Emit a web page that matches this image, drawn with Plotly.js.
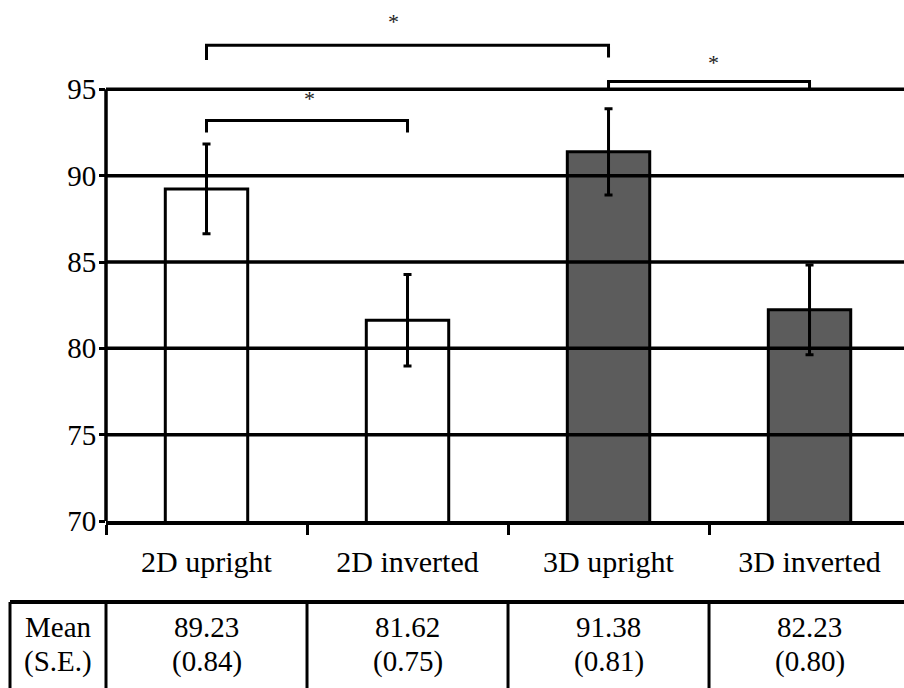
<!DOCTYPE html>
<html>
<head>
<meta charset="utf-8">
<script src="https://cdn.plot.ly/plotly-3.0.1.min.js"></script>
<style>
  html, body { margin: 0; padding: 0; background: #fff; }
  #chart { width: 904px; height: 688px; }
</style>
</head>
<body>
<div id="chart"></div>
<script>
// ---- data ----
const categories = ["2D upright", "2D inverted", "3D upright", "3D inverted"];
const means = [89.23, 81.62, 91.38, 82.23];
const errors = [2.6, 2.65, 2.5, 2.6];
const seLabels = ["(0.84)", "(0.75)", "(0.81)", "(0.80)"];
const meanLabels = ["89.23", "81.62", "91.38", "82.23"];
const barColors = ["#ffffff", "#ffffff", "#5c5c5c", "#5c5c5c"];
const yTicks = [70, 75, 80, 85, 90, 95];
// significance brackets: [fromIdx, toIdx, yBar, yLeftEnd, yRightEnd, starX, starY]
const brackets = [
  [0, 2, 97.55, 96.7, 96.85, 0.93, 98.95],
  [2, 3, 95.45, 94.95, 94.95, 2.52, 96.56],
  [0, 1, 93.2, 92.5, 92.5, 0.51, 94.46]
];

const FONT = "'Liberation Serif', 'Times New Roman', serif";

const trace = {
  type: "bar",
  x: categories,
  y: means,
  width: 0.41,
  marker: { color: barColors, line: { color: "#000", width: 3 } },
  error_y: { type: "data", array: errors, visible: true, color: "#000", thickness: 3, width: 4 },
  hoverinfo: "skip"
};

const shapes = [];
const annotations = [];

// gridlines above bars
yTicks.slice(1).forEach(v => {
  shapes.push({ type: "line", layer: "above", xref: "paper", yref: "y", x0: 0, x1: 1, y0: v, y1: v,
    line: { color: "#000", width: 3.5 } });
});
// y axis line
shapes.push({ type: "line", layer: "above", xref: "paper", yref: "y", x0: 0, x1: 0, y0: 70, y1: 95,
  line: { color: "#000", width: 3.5 } });

// brackets
brackets.forEach(b => {
  const [a, c, yb, yl, yr, sx, sy] = b;
  shapes.push({ type: "path", layer: "above", xref: "x", yref: "y",
    path: `M ${a},${yl} L ${a},${yb} L ${c},${yb} L ${c},${yr}`,
    line: { color: "#000", width: 3 } });
  annotations.push({ xref: "x", yref: "y", x: sx, y: sy, text: "*", showarrow: false,
    font: { family: FONT, size: 22, color: "#222" }, xanchor: "center", yanchor: "middle" });
});

// table
const tTop = -0.1564, tBot = -0.34, tLeft = -0.1203;
const lineStyle = { color: "#000", width: 3 };
shapes.push({ type: "line", xref: "paper", yref: "paper", x0: tLeft, x1: 1.02, y0: tTop, y1: tTop, line: { color: "#000", width: 4 } });
shapes.push({ type: "line", xref: "paper", yref: "paper", x0: tLeft, x1: tLeft, y0: tTop, y1: tBot, line: lineStyle });
shapes.push({ type: "line", xref: "paper", yref: "paper", x0: 0, x1: 0, y0: tTop, y1: tBot, line: lineStyle });
[0.5, 1.5, 2.5].forEach(b => {
  shapes.push({ type: "line", xref: "x", yref: "paper", x0: b, x1: b, y0: tTop, y1: tBot, line: lineStyle });
});
const row1 = -0.2046, row2 = -0.2703;
const tf = { family: FONT, size: 29, color: "#000" };
annotations.push({ xref: "paper", yref: "paper", x: tLeft / 2, y: row1, text: "Mean", showarrow: false,
  font: tf, xanchor: "center", yanchor: "middle" });
annotations.push({ xref: "paper", yref: "paper", x: tLeft / 2, y: row2, text: "(S.E.)", showarrow: false,
  font: tf, xanchor: "center", yanchor: "middle" });
categories.forEach((c, i) => {
  annotations.push({ xref: "x", yref: "paper", x: i, y: row1, text: meanLabels[i], showarrow: false,
    font: tf, xanchor: "center", yanchor: "middle" });
  annotations.push({ xref: "x", yref: "paper", x: i, y: row2, text: seLabels[i], showarrow: false,
    font: tf, xanchor: "center", yanchor: "middle" });
});

const layout = {
  width: 904, height: 688,
  margin: { l: 106, r: 0, t: 3, b: 167, pad: 0 },
  paper_bgcolor: "#fff", plot_bgcolor: "#fff",
  showlegend: false,
  font: { family: FONT, color: "#000" },
  xaxis: {
    type: "category",
    range: [-0.5, 3.47],
    showline: true, linecolor: "#000", linewidth: 3.5,
    ticks: "outside", tickson: "boundaries", ticklen: 10, tickwidth: 3, tickcolor: "#000",
    tickfont: { family: FONT, size: 30, color: "#000" },
    ticklabelstandoff: 11,
    showgrid: false, zeroline: false, fixedrange: true
  },
  yaxis: {
    range: [70, 100],
    tickvals: yTicks,
    ticktext: yTicks.map(String),
    ticks: "outside", ticklen: 6, tickwidth: 3, tickcolor: "#000",
    tickfont: { family: FONT, size: 29, color: "#000" },
    ticklabelstandoff: -3,
    showline: false, showgrid: false, zeroline: false, fixedrange: true
  },
  shapes: shapes,
  annotations: annotations
};

Plotly.newPlot("chart", [trace], layout, { displayModeBar: false, staticPlot: true });
</script>
</body>
</html>
